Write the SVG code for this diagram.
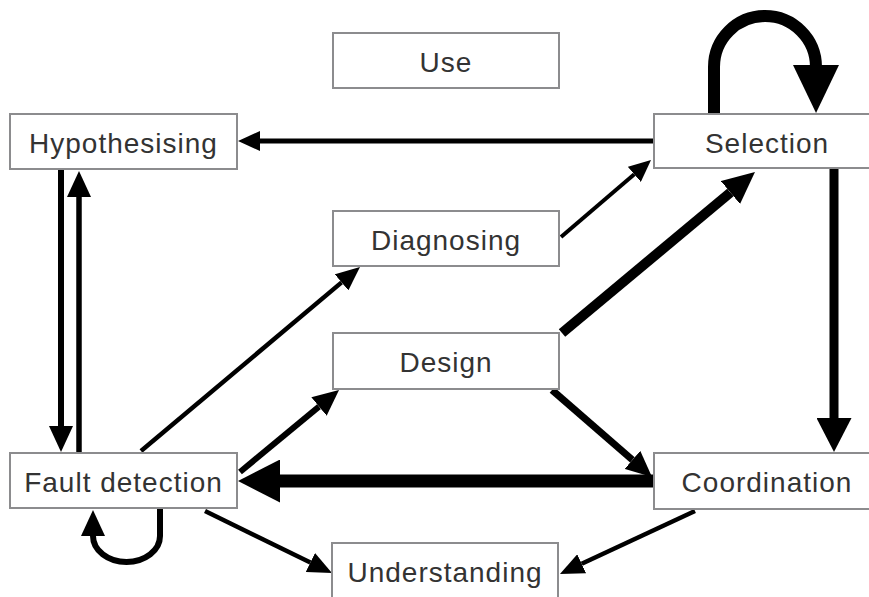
<svg xmlns="http://www.w3.org/2000/svg" width="869" height="597" viewBox="0 0 869 597">
  <style>
    .box rect { fill: #ffffff; stroke: #8c8c8e; stroke-width: 2; }
    .box text { font-family: "Liberation Sans", Arial, sans-serif; font-size: 28px; letter-spacing: 1px; fill: #333333; text-anchor: middle; }
    .edge { fill: none; stroke: #000000; stroke-linecap: butt; }
    .head { fill: #000000; }
  </style>
  <defs>
    <marker id="thin" markerUnits="userSpaceOnUse" markerWidth="22" markerHeight="20" viewBox="0 -10 22 20" refX="0" refY="0" orient="auto">
      <path class="head" d="M0,-10 L22,0 L0,10 z"/>
    </marker>
    <marker id="small" markerUnits="userSpaceOnUse" markerWidth="24" markerHeight="21" viewBox="0 -10.5 24 21" refX="0" refY="0" orient="auto">
      <path class="head" d="M0,-10.5 L24,0 L0,10.5 z"/>
    </marker>
    <marker id="medium" markerUnits="userSpaceOnUse" markerWidth="26" markerHeight="24" viewBox="0 -12 26 24" refX="0" refY="0" orient="auto">
      <path class="head" d="M0,-12 L26,0 L0,12 z"/>
    </marker>
    <marker id="large" markerUnits="userSpaceOnUse" markerWidth="32" markerHeight="30" viewBox="0 -15 32 30" refX="0" refY="0" orient="auto">
      <path class="head" d="M0,-15 L32,0 L0,15 z"/>
    </marker>
    <marker id="xl" markerUnits="userSpaceOnUse" markerWidth="34" markerHeight="35" viewBox="0 -17.5 34 35" refX="0" refY="0" orient="auto">
      <path class="head" d="M0,-17.5 L34,0 L0,17.5 z"/>
    </marker>
    <marker id="xxl" markerUnits="userSpaceOnUse" markerWidth="42" markerHeight="43" viewBox="0 -21.5 42 43" refX="0" refY="0" orient="auto">
      <path class="head" d="M0,-21.5 L42,0 L0,21.5 z"/>
    </marker>
    <marker id="loop" markerUnits="userSpaceOnUse" markerWidth="48" markerHeight="46" viewBox="0 -23 48 46" refX="2" refY="0" orient="auto">
      <path class="head" d="M0,-23 L48,0 L0,23 z"/>
    </marker>
  </defs>

  <rect width="869" height="597" fill="#ffffff"/>

  <!-- connectors -->
  <g id="connectors">
    <!-- Selection -> Hypothesising -->
    <path class="edge" d="M654,141 L260,141" stroke-width="5" marker-end="url(#thin)"/>
    <!-- Hypothesising -> Fault detection -->
    <path class="edge" d="M61,169 L61,426" stroke-width="6" marker-end="url(#medium)"/>
    <!-- Fault detection -> Hypothesising -->
    <path class="edge" d="M79,453 L79,197" stroke-width="5.5" marker-end="url(#medium)"/>
    <!-- Fault detection self-loop: down, round the bottom, back up -->
    <path class="edge" d="M160,508 L160,536 A33.5,26 0 0 1 93,536" stroke-width="6" marker-end="url(#medium)"/>
    <!-- Selection self-loop -->
    <path class="edge" d="M714,114 L714,67 A51,51 0 0 1 816,67" stroke-width="12" marker-end="url(#loop)"/>
    <!-- Selection -> Coordination -->
    <path class="edge" d="M834,168 L834,418" stroke-width="9" marker-end="url(#xl)"/>
    <!-- Coordination -> Fault detection -->
    <path class="edge" d="M654,481 L280,481" stroke-width="13" marker-end="url(#xxl)"/>
    <!-- Design -> Coordination -->
    <path class="edge" d="M552,390 L632.4,459.9" stroke-width="7" marker-end="url(#medium)"/>
    <!-- Design -> Selection -->
    <path class="edge" d="M562,333 L730.4,192.5" stroke-width="10" marker-end="url(#large)"/>
    <!-- Diagnosing -> Selection -->
    <path class="edge" d="M561,237 L634.3,174.3" stroke-width="4" marker-end="url(#thin)"/>
    <!-- Fault detection -> Diagnosing -->
    <path class="edge" d="M141,451 L341.6,282.4" stroke-width="4.5" marker-end="url(#small)"/>
    <!-- Fault detection -> Design -->
    <path class="edge" d="M240,472 L319,406.6" stroke-width="6" marker-end="url(#medium)"/>
    <!-- Fault detection -> Understanding -->
    <path class="edge" d="M205,511 L310.4,562.5" stroke-width="4.5" marker-end="url(#small)"/>
    <!-- Coordination -> Understanding -->
    <path class="edge" d="M695,511 L581.7,563.8" stroke-width="4.5" marker-end="url(#small)"/>
  </g>

  <!-- nodes -->
  <g id="use" class="box">
    <rect x="333" y="33" width="226" height="55"/>
    <text x="446" y="72">Use</text>
  </g>
  <g id="hypothesising" class="box">
    <rect x="10" y="114" width="227" height="55"/>
    <text x="123.5" y="153">Hypothesising</text>
  </g>
  <g id="selection" class="box">
    <rect x="654" y="114" width="227" height="54"/>
    <text x="767" y="153">Selection</text>
  </g>
  <g id="diagnosing" class="box">
    <rect x="333" y="211" width="226" height="55"/>
    <text x="446" y="250">Diagnosing</text>
  </g>
  <g id="design" class="box">
    <rect x="333" y="333" width="226" height="56"/>
    <text x="446" y="372">Design</text>
  </g>
  <g id="fault-detection" class="box">
    <rect x="10" y="453" width="227" height="55"/>
    <text x="123.5" y="492">Fault detection</text>
  </g>
  <g id="coordination" class="box">
    <rect x="654" y="453" width="227" height="56"/>
    <text x="767" y="492">Coordination</text>
  </g>
  <g id="understanding" class="box">
    <rect x="332" y="543" width="226" height="56"/>
    <text x="445" y="582">Understanding</text>
  </g>
</svg>
